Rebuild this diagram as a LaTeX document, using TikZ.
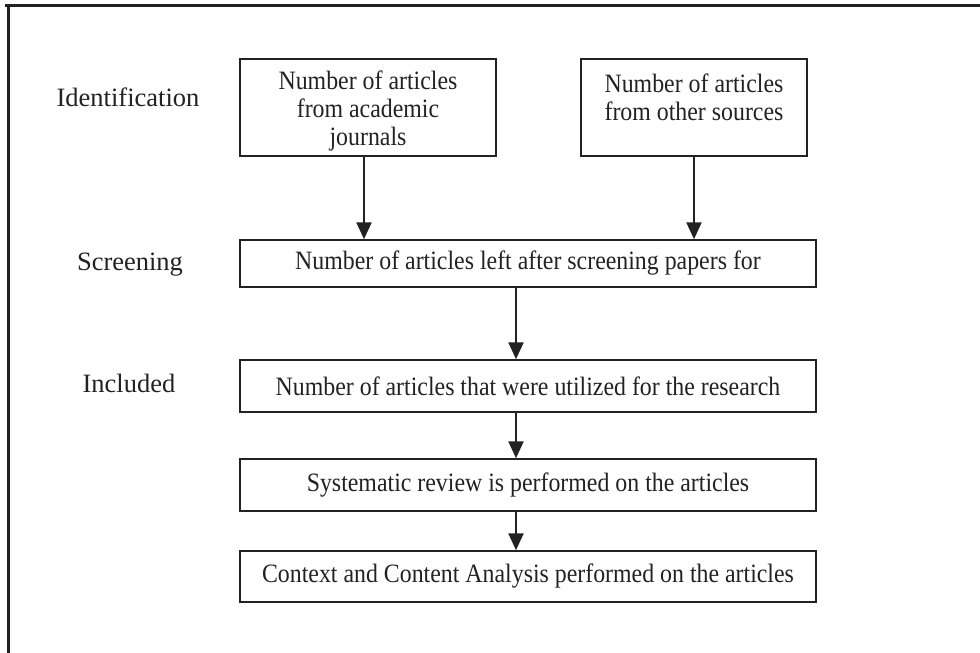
\documentclass[tikz,border=0pt]{standalone}
\usepackage{fontspec}
\setmainfont{Liberation Serif}
\newfontfamily\boxfont[FakeStretch=0.9]{Liberation Serif}
\usetikzlibrary{arrows.meta}
\definecolor{ink}{HTML}{222222}
\tikzset{
  box/.style={draw=ink, line width=1.5pt, rectangle, inner sep=0pt, align=center,
    font=\boxfont\fontsize{26.5}{28}\selectfont, text=ink},
  lab/.style={inner sep=0pt, font=\fontsize{26.5}{29}\selectfont, text=ink},
  arr/.style={draw=ink, line width=2.5pt, -{Triangle[length=17pt,width=15pt]}},
  frame/.style={draw=ink, line width=3pt}
}
\begin{document}
\begin{tikzpicture}[x=1pt,y=-1pt]
\useasboundingbox (0,0) rectangle (980,653);
% outer frame (top and left sides only)
\coordinate (f1) at (5,5.5);
\coordinate (f2) at (980,5.5);
\coordinate (f3) at (8.5,5.5);
\coordinate (f4) at (8.5,653);
\draw[frame] (f1) -- (f2);
\draw[frame] (f3) -- (f4);
% stage labels
\node[lab] (lid) at (128,97) {Identification};
\node[lab] (lsc) at (130,265) {Screening};
\node[lab] (lin) at (129,383) {Included};
% boxes
\node[box, minimum width=256pt, minimum height=97pt] (A) at (368,107.5)
  {\rule{0pt}{25pt}Number of articles\\from academic\\journals};
\node[box, minimum width=226pt, minimum height=97pt] (B) at (694,107.5)
  {\rule{0pt}{25pt}Number of articles\\from other sources\\\mbox{}};
\node[box, minimum width=576pt, minimum height=47pt] (S) at (528,263.5)
  {Number of articles left after screening papers for};
\node[box, minimum width=576pt, minimum height=52pt] (I) at (528,386)
  {Number of articles that were utilized for the research};
\node[box, minimum width=576pt, minimum height=52pt] (Y) at (528,485)
  {Systematic review is performed on the articles};
\node[box, minimum width=576pt, minimum height=51pt] (C) at (528,576.5)
  {Context and Content Analysis performed on the articles};
% connectors
\coordinate (colA) at (364,0);
\coordinate (colM) at (516,0);
\draw[arr] (colA |- A.south) -- (colA |- S.north);
\draw[arr] (B.south) -- (B.south |- S.north);
\draw[arr] (colM |- S.south) -- (colM |- I.north);
\draw[arr] (colM |- I.south) -- (colM |- Y.north);
\draw[arr] (colM |- Y.south) -- (colM |- C.north);
\end{tikzpicture}
\end{document}
